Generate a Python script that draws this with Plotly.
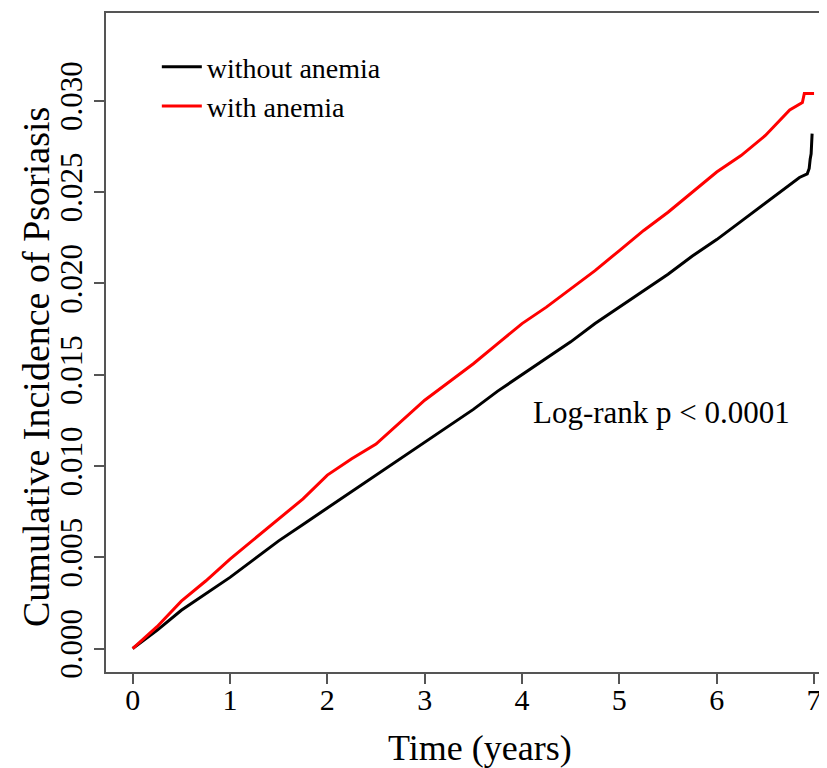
import plotly.graph_objects as go

# Time points (years) and cumulative incidence
time_without = [0, 0.25, 0.5, 0.75, 1.0, 1.25, 1.5, 1.75, 2.0, 2.25, 2.5, 2.75, 3.0,
                3.25, 3.5, 3.75, 4.0, 4.25, 4.5, 4.75, 5.0, 5.25, 5.5, 5.75, 6.0,
                6.25, 6.5, 6.75, 6.85, 6.93, 6.95, 6.96, 6.97, 6.98]
ci_without = [0.0, 0.0010, 0.0021, 0.0030, 0.0039, 0.0049, 0.0059, 0.0068, 0.0077,
              0.0086, 0.0095, 0.0104, 0.0113, 0.0122, 0.0131, 0.0141, 0.0150,
              0.0159, 0.0168, 0.0178, 0.0187, 0.0196, 0.0205, 0.0215, 0.0224,
              0.0234, 0.0244, 0.0254, 0.0258, 0.0260, 0.0263, 0.0268, 0.0271, 0.0282]

time_with = [0, 0.25, 0.5, 0.75, 1.0, 1.25, 1.5, 1.75, 2.0, 2.25, 2.5, 2.75, 3.0,
             3.25, 3.5, 3.75, 4.0, 4.25, 4.5, 4.75, 5.0, 5.25, 5.5, 5.75, 6.0,
             6.25, 6.5, 6.75, 6.85, 6.88, 6.9, 7.0]
ci_with = [0.0, 0.0012, 0.0026, 0.0037, 0.0049, 0.0060, 0.0071, 0.0082, 0.0095,
           0.0104, 0.0112, 0.0124, 0.0136, 0.0146, 0.0156, 0.0167, 0.0178,
           0.0187, 0.0197, 0.0207, 0.0218, 0.0229, 0.0239, 0.0250, 0.0261,
           0.0270, 0.0281, 0.0295, 0.0298, 0.0299, 0.0304, 0.0304]

x_ticks = [0, 1, 2, 3, 4, 5, 6, 7]
y_ticks = [0.000, 0.005, 0.010, 0.015, 0.020, 0.025, 0.030]
y_tick_labels = ["0.000", "0.005", "0.010", "0.015", "0.020", "0.025", "0.030"]

series_names = ["without anemia", "with anemia"]
series_colors = ["#000000", "#ff0000"]

x_title = "Time (years)"
y_title = "Cumulative Incidence of Psoriasis"
test_label = "Log-rank p < 0.0001"

FONT = "Liberation Serif, Times New Roman, serif"

fig = go.Figure()
fig.add_trace(go.Scatter(x=time_without, y=ci_without, mode="lines",
                         name=series_names[0],
                         line=dict(color=series_colors[0], width=3)))
fig.add_trace(go.Scatter(x=time_with, y=ci_with, mode="lines",
                         name=series_names[1],
                         line=dict(color=series_colors[1], width=3)))

fig.add_annotation(x=0.7705, y=0.3945, xref="paper", yref="paper",
                   text=test_label, showarrow=False,
                   font=dict(family=FONT, size=31, color="#000"),
                   xanchor="center", yanchor="middle")
# axis titles
fig.add_annotation(x=0.5187, y=-0.1153, xref="paper", yref="paper",
                   text=x_title, showarrow=False,
                   font=dict(family=FONT, size=36, color="#000"),
                   xanchor="center", yanchor="middle")
fig.add_annotation(x=-0.0971, y=0.4628, xref="paper", yref="paper",
                   text=y_title, showarrow=False, textangle=-90,
                   font=dict(family=FONT, size=38, color="#000"),
                   xanchor="center", yanchor="middle")

axis_common = dict(showline=True, linecolor="#555555", linewidth=1.5,
                   ticks="outside", ticklen=10, tickwidth=1.5, tickcolor="#555555",
                   showgrid=False, zeroline=False, automargin=False)

fig.update_xaxes(range=[-0.274, 7.133], tickvals=x_ticks, mirror=True,
                 ticklabelstandoff=-10,
                 tickfont=dict(family=FONT, size=30, color="#000"),
                 **axis_common)
fig.update_yaxes(range=[-0.001283, 0.03481], tickvals=y_ticks, ticktext=y_tick_labels,
                 tickangle=-90, ticklabelstandoff=0,
                 tickfont=dict(family=FONT, size=31, color="#000"),
                 **axis_common)

fig.update_layout(
    width=819, height=760,
    margin=dict(l=98, r=0, t=5, b=96, autoexpand=False),
    plot_bgcolor="white", paper_bgcolor="white",
    showlegend=True,
    legend=dict(x=0.0705, y=0.956, xanchor="left", yanchor="top",
                bgcolor="rgba(0,0,0,0)", borderwidth=0,
                font=dict(family=FONT, size=28, color="#000"),
                tracegroupgap=0, itemwidth=40),
)

fig.write_html("out.html")
